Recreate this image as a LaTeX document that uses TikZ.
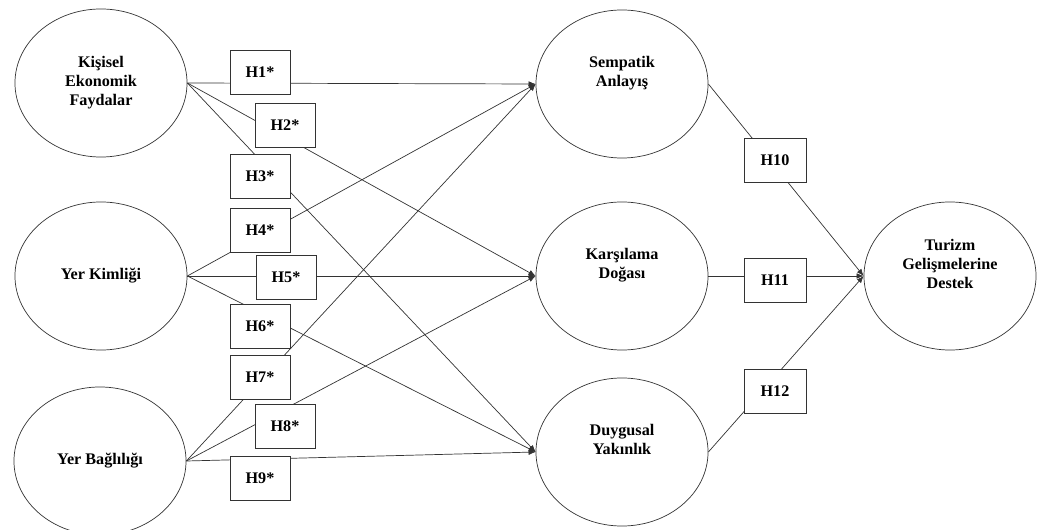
\documentclass[tikz,border=0pt]{standalone}
\usepackage{fontspec}
\setmainfont{Liberation Serif}
\usetikzlibrary{shapes.geometric,arrows.meta}
\definecolor{pathLine}{HTML}{333333}

\begin{document}
\begin{tikzpicture}[x=0.025cm, y=-0.025cm,
    factor/.style={ellipse, draw=pathLine, line width=0.5pt, minimum width=4.3cm,
        minimum height=3.7cm, inner sep=0pt, align=center,
        font=\fontsize{11.5}{13.5}\selectfont\bfseries},
    hypbox/.style={draw=pathLine, line width=0.5pt, fill=white, minimum width=1.5cm,
        minimum height=1.1cm, inner sep=0pt, font=\fontsize{11.5}{13.5}\selectfont\bfseries},
    path/.style={draw=pathLine, line width=0.5pt, -{Latex[length=5pt,width=4pt]}}]
    \useasboundingbox (0,0) rectangle (1037,530);
    % left side
    \node[factor] (kef) at (101,83) {Kişisel\\Ekonomik\\Faydalar};
    \node[factor] (yk) at (101,276) {Yer Kimliği};
    \node[factor] (yb) at (100,461) {Yer Bağlılığı};
    % middle
    \node[factor] (sa) at (622,84) {Sempatik\\Anlayış\\\strut};
    \node[factor] (kd) at (622,276) {Karşılama\\Doğası\\\strut};
    \node[factor] (dy) at (622,452) {Duygusal\\Yakınlık\\\strut};
    % right
    \node[factor] (tgd) at (950,276) {Turizm\\Gelişmelerine\\Destek\\\strut};

    \foreach \src in {kef,yk,yb}
        \foreach \dst in {sa,kd,dy}
            \draw[path] (\src.east) -- (\dst.west);
    \foreach \src in {sa,kd,dy}
        \draw[path] (\src.east) -- (tgd.west);

    \node[hypbox] (h1) at (260,72) {H1*};
    \node[hypbox] (h2) at (285,125) {H2*};
    \node[hypbox] (h3) at (260,176) {H3*};
    \node[hypbox] (h4) at (260,230) {H4*};
    \node[hypbox] (h5) at (286,277) {H5*};
    \node[hypbox] (h6) at (260,326) {H6*};
    \node[hypbox] (h7) at (260,377) {H7*};
    \node[hypbox] (h8) at (285,426) {H8*};
    \node[hypbox] (h9) at (260,478) {H9*};
    \node[hypbox, minimum width=1.55cm] (h10) at (775,160) {H10};
    \node[hypbox, minimum width=1.55cm] (h11) at (775,280) {H11};
    \node[hypbox, minimum width=1.55cm] (h12) at (775,391) {H12};
\end{tikzpicture}
\end{document}
